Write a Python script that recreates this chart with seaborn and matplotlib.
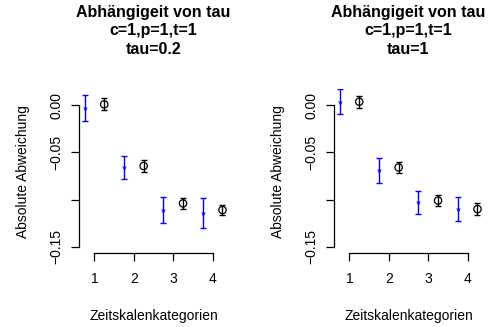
import matplotlib
matplotlib.use("Agg")
import matplotlib.pyplot as plt
import seaborn as sns
import numpy as np
import pandas as pd

sns.set_style("white")
plt.rcParams['font.family'] = ['Liberation Sans', 'DejaVu Sans']
plt.rcParams['text.color'] = 'black'
plt.rcParams['axes.labelcolor'] = 'black'
plt.rcParams['xtick.color'] = 'black'
plt.rcParams['ytick.color'] = 'black'

categories = [1, 2, 3, 4]
titles = ["Abhängigeit von tau\nc=1,p=1,t=1\ntau=0.2", "Abhängigeit von tau\nc=1,p=1,t=1\ntau=1"]

left_blue_mean = [-0.003, -0.066, -0.111, -0.114]
left_blue_err = [0.014, 0.012, 0.0135, 0.0155]
left_black_mean = [0.0007, -0.0645, -0.104, -0.111]
left_black_err = [0.0062, 0.0065, 0.0055, 0.0055]

right_blue_mean = [0.0035, -0.069, -0.103, -0.110]
right_blue_err = [0.0135, 0.013, 0.0123, 0.013]
right_black_mean = [0.0035, -0.066, -0.101, -0.110]
right_black_err = [0.0065, 0.006, 0.0055, 0.006]

yticks = [0.0, -0.05, -0.10, -0.15]
ytick_labels = ["0.00", "\u22120.05", "", "\u22120.15"]
xlabel = "Zeitskalenkategorien"
ylabel = "Absolute Abweichung"

W, H = 489, 327
fig = plt.figure(figsize=(W / 100, H / 100), dpi=100)

panels = [
    (79, left_blue_mean, left_blue_err, left_black_mean, left_black_err, titles[0]),
    (334, right_blue_mean, right_blue_err, right_black_mean, right_black_err, titles[1]),
]

for x0, bm, be, km, ke, title in panels:
    ax = fig.add_axes([x0 / W, (H - 253) / H, 149 / W, 163.5 / H])
    cats = np.array(categories, dtype=float)
    df_blue = pd.DataFrame({"x": cats - 0.25, "y": bm})
    df_black = pd.DataFrame({"x": cats + 0.25, "y": km})
    ax.errorbar(df_blue["x"], df_blue["y"], yerr=be, fmt="none", ecolor="#0000FF",
                elinewidth=1.0, capsize=2.2, capthick=1.0)
    ax.errorbar(df_black["x"], df_black["y"], yerr=ke, fmt="none", ecolor="black",
                elinewidth=1.0, capsize=2.2, capthick=1.0)
    sns.scatterplot(data=df_blue, x="x", y="y", ax=ax, marker="*", color="#0000FF",
                    s=16, linewidth=0, zorder=3)
    sns.scatterplot(data=df_black, x="x", y="y", ax=ax, marker="o", facecolor="none",
                    edgecolor="black", s=28, linewidth=0.9, zorder=3)
    ax.set_xlim(0.61, 4.39)
    ax.set_ylim(-0.1564, 0.0164)
    for s in ["top", "right"]:
        ax.spines[s].set_visible(False)
    for s in ["left", "bottom"]:
        ax.spines[s].set_color("black")
        ax.spines[s].set_linewidth(0.9)
    ax.spines["left"].set_bounds(-0.15, 0.0)
    ax.spines["bottom"].set_bounds(1, 4)
    ax.set_xticks(categories)
    ax.set_xticklabels([str(c) for c in categories], fontsize=10)
    ax.set_yticks(yticks)
    ax.set_yticklabels(ytick_labels, fontsize=10, rotation=90, va="center")
    ax.tick_params(axis="both", direction="out", length=6, width=0.9, color="black",
                   bottom=True, left=True, pad=4)
    ax.tick_params(axis="x", pad=8)
    ax.tick_params(axis="y", pad=5)
    ax.set_xlabel(xlabel, fontsize=10, labelpad=16)
    ax.set_ylabel(ylabel, fontsize=10, labelpad=14)
    ax.set_facecolor("white")
    cx = (x0 + 74.5) / W
    fig.text(cx, 1 - 31 / H, title, ha="center", va="center", fontsize=11.5,
             fontweight="bold", linespacing=1.25)

fig.savefig("out.png", dpi=100, facecolor="white")
